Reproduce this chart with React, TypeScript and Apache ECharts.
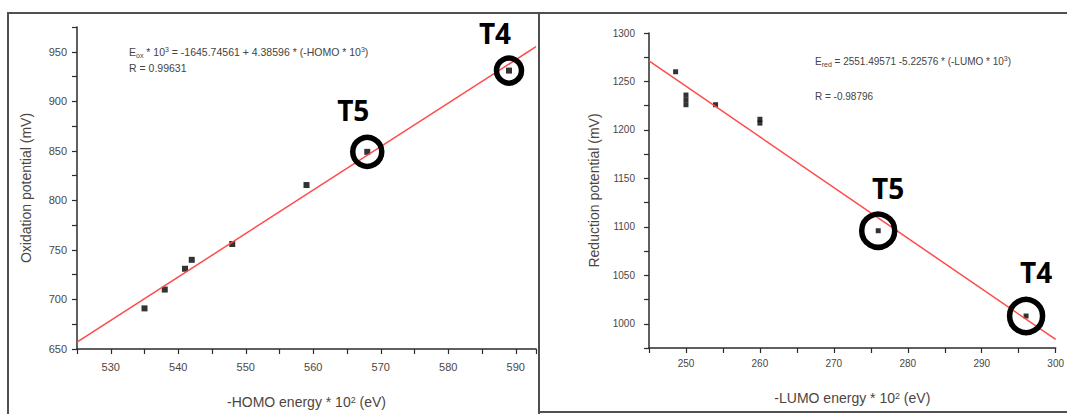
import React, { useEffect, useRef } from "react";
import * as echarts from "echarts";

// Left panel: oxidation potential vs -HOMO energy * 10^2
const homoEnergy = [535, 538, 541, 542, 548, 559, 568, 589];
const oxidationPotential = [691, 710, 731, 740, 756, 815.5, 849, 931];
const oxFitX = [525, 593];
const oxFitY = [656.9, 955.1];
const oxMarkNames = ["T5", "T4"];
const oxMarkIndex = [6, 7];

// Right panel: reduction potential vs -LUMO energy * 10^2
const lumoEnergy = [248.6, 250, 250, 250, 254, 260, 260, 276, 296];
const reductionPotential = [1260, 1236, 1231, 1226, 1226, 1211, 1207, 1096, 1008];
const redFitX = [245, 300];
const redFitY = [1271.2, 983.8];
const redMarkNames = ["T5", "T4"];
const redMarkIndex = [7, 8];

const leftEquation = "E{sub|ox} * 10{sup|3} = -1645.74561 + 4.38596 * (-HOMO * 10{sup|3})";
const leftR = "R = 0.99631";
const rightEquation = "E{sub|red} = 2551.49571 -5.22576 * (-LUMO * 10{sup|3})";
const rightR = "R = -0.98796";

const FONT = "Liberation Sans, Arial, sans-serif";
const AX = "#2b2b2b";
const LBL = "#4d4640";

function zip(xs: number[], ys: number[]) {
  return xs.map((x, i) => [x, ys[i]]);
}

export default function App() {
  const ref = useRef<HTMLDivElement>(null);
  useEffect(() => {
    if (!ref.current) return;
    const chart = echarts.init(ref.current, undefined, { renderer: "svg" });

    const labelEvery = (step: number) => (v: number) =>
      Math.abs(v % step) < 1e-9 ? String(v) : "";

    const commonAxis = {
      type: "value",
      splitLine: { show: false },
      axisLine: { onZero: false, lineStyle: { color: AX, width: 1.5 } },
      axisTick: { length: 5, lineStyle: { color: AX, width: 1.2 } },
    };

    const markSeries = (
      xi: number,
      xs: number[],
      ys: number[],
      names: string[],
      idx: number[],
      sizes: number[],
      offsets: number[][]
    ) => ({
      type: "scatter",
      xAxisIndex: xi,
      yAxisIndex: xi,
      z: 5,
      data: idx.map((k, j) => ({
        name: names[j],
        value: [xs[k], ys[k]],
        symbolSize: sizes[j],
        label: { offset: offsets[j] },
      })),
      symbol: "circle",
      itemStyle: { color: "rgba(0,0,0,0)", borderColor: "#000", borderWidth: 5.5, opacity: 1 },
      label: {
        show: true,
        position: "inside",
        formatter: "{b}",
        fontSize: 28,
        fontWeight: "bold",
        fontFamily: "Open Sans, Liberation Sans, sans-serif",
        color: "#000",
      },
      emphasis: { disabled: true },
    });

    const option: any = {
      animation: false,
      backgroundColor: "#fff",
      grid: [
        { left: 77, top: 27, width: 459, height: 329 },
        { left: 649, top: 33, width: 412, height: 315 },
      ],
      xAxis: [
        {
          ...commonAxis,
          gridIndex: 0,
          min: 525,
          max: 593,
          interval: 5,
          axisLabel: { interval: 0, formatter: labelEvery(10), fontSize: 11, color: LBL, margin: 12, fontFamily: FONT },
          name: "-HOMO energy * 10{sup|2} (eV)",
          nameLocation: "middle",
          nameGap: 46,
          nameTextStyle: {
            fontSize: 14,
            color: LBL,
            fontFamily: FONT,
            rich: { sup: { fontSize: 9, verticalAlign: "top", color: LBL } },
          },
        },
        {
          ...commonAxis,
          gridIndex: 1,
          min: 245,
          max: 300,
          interval: 5,
          axisLabel: { interval: 0, formatter: labelEvery(10), fontSize: 10, color: LBL, margin: 10, fontFamily: FONT },
          name: "-LUMO energy * 10{sup|2} (eV)",
          nameLocation: "middle",
          nameGap: 43,
          nameTextStyle: {
            fontSize: 14,
            color: LBL,
            fontFamily: FONT,
            rich: { sup: { fontSize: 9, verticalAlign: "top", color: LBL } },
          },
        },
      ],
      yAxis: [
        {
          ...commonAxis,
          gridIndex: 0,
          min: 650,
          max: 975,
          interval: 25,
          axisLabel: { interval: 0, formatter: labelEvery(50), fontSize: 11, color: LBL, margin: 10, fontFamily: FONT },
          name: "Oxidation potential (mV)",
          nameLocation: "middle",
          nameGap: 44,
          nameTextStyle: { fontSize: 14, color: LBL, fontFamily: FONT },
        },
        {
          ...commonAxis,
          gridIndex: 1,
          min: 975,
          max: 1300,
          interval: 25,
          axisLabel: { interval: 0, formatter: labelEvery(50), fontSize: 10, color: LBL, margin: 14, fontFamily: FONT },
          name: "Reduction potential (mV)",
          nameLocation: "middle",
          nameGap: 48,
          nameTextStyle: { fontSize: 14, color: LBL, fontFamily: FONT },
        },
      ],
      series: [
        {
          type: "line",
          xAxisIndex: 0,
          yAxisIndex: 0,
          data: zip(oxFitX, oxFitY),
          showSymbol: false,
          lineStyle: { color: "#ff4a4a", width: 1.5 },
          silent: true,
        },
        {
          type: "scatter",
          xAxisIndex: 0,
          yAxisIndex: 0,
          data: zip(homoEnergy, oxidationPotential),
          symbol: "rect",
          symbolSize: 6,
          itemStyle: { color: "#000" },
        },
        markSeries(0, homoEnergy, oxidationPotential, oxMarkNames, oxMarkIndex, [29, 25], [[-14, -42], [-14, -38]]),
        {
          type: "line",
          xAxisIndex: 1,
          yAxisIndex: 1,
          data: zip(redFitX, redFitY),
          showSymbol: false,
          lineStyle: { color: "#ff4a4a", width: 1.5 },
          silent: true,
        },
        {
          type: "scatter",
          xAxisIndex: 1,
          yAxisIndex: 1,
          data: zip(lumoEnergy, reductionPotential),
          symbol: "rect",
          symbolSize: 5,
          itemStyle: { color: "#000" },
        },
        markSeries(1, lumoEnergy, reductionPotential, redMarkNames, redMarkIndex, [33, 33], [[10, -43], [10, -44]]),
      ],
      graphic: [
        {
          type: "rect",
          shape: { x: 8, y: 13, width: 531, height: 430 },
          style: { fill: "none", stroke: "#505050", lineWidth: 2 },
          silent: true,
        },
        {
          type: "rect",
          shape: { x: 539, y: 13, width: 540, height: 399 },
          style: { fill: "none", stroke: "#505050", lineWidth: 2 },
          silent: true,
        },
        {
          type: "text",
          x: 129,
          y: 52,
          style: {
            text: leftEquation,
            fontSize: 10.5,
            fontFamily: FONT,
            fill: "#444",
            verticalAlign: "middle",
            rich: {
              sub: { fontSize: 7, verticalAlign: "bottom", fill: "#444", padding: [6, 0, 0, 0] },
              sup: { fontSize: 7, verticalAlign: "top", fill: "#444", padding: [0, 0, 4, 0] },
            },
          },
        },
        {
          type: "text",
          x: 129,
          y: 68,
          style: { text: leftR, fontSize: 10.5, fontFamily: FONT, fill: "#444", verticalAlign: "middle" },
        },
        {
          type: "text",
          x: 815,
          y: 61,
          style: {
            text: rightEquation,
            fontSize: 10,
            fontFamily: FONT,
            fill: "#444",
            verticalAlign: "middle",
            rich: {
              sub: { fontSize: 7, verticalAlign: "bottom", fill: "#444", padding: [6, 0, 0, 0] },
              sup: { fontSize: 7, verticalAlign: "top", fill: "#444", padding: [0, 0, 4, 0] },
            },
          },
        },
        {
          type: "text",
          x: 815,
          y: 96,
          style: { text: rightR, fontSize: 10, fontFamily: FONT, fill: "#444", verticalAlign: "middle" },
        },
      ],
    };

    chart.setOption(option);
    return () => chart.dispose();
  }, []);

  return (
    <div
      ref={ref}
      style={{ position: "fixed", left: 0, top: 0, width: 1067, height: 414, background: "#fff" }}
    />
  );
}
